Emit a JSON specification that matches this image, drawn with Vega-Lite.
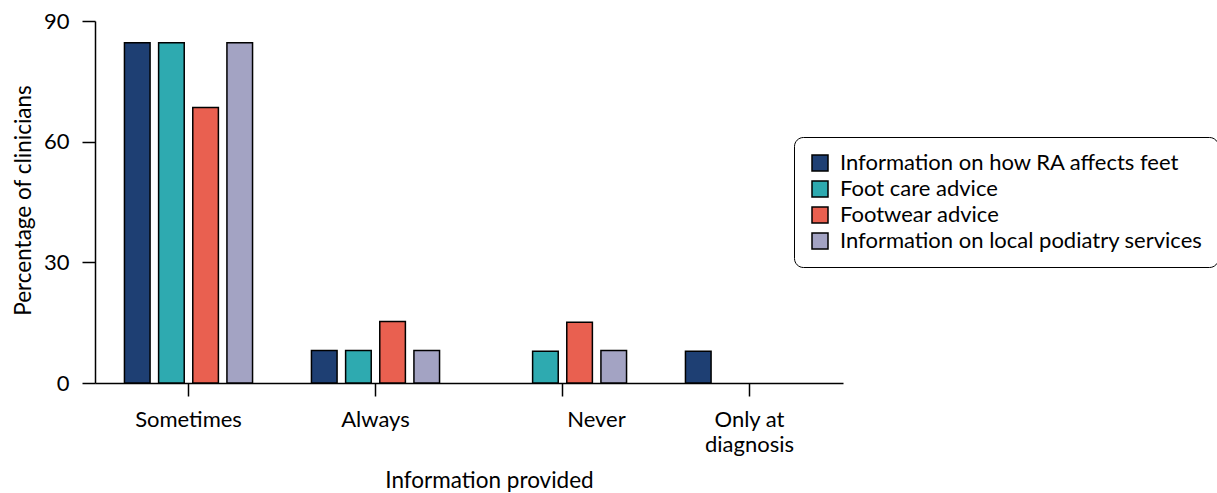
{
  "$schema": "https://vega.github.io/schema/vega-lite/v6.json",
  "autosize": {"type": "none"},
  "padding": {"left": 95, "top": 21, "right": 374, "bottom": 110},
  "width": 748,
  "height": 362,
  "background": "white",
  "config": {
    "view": {"stroke": null},
    "font": "Lato",
    "axis": {
      "labelFont": "Lato", "titleFont": "Lato", "labelFontSize": 22, "titleFontSize": 22.5,
      "labelColor": "black", "titleColor": "black", "titleFontWeight": "normal",
      "domainColor": "black", "domainWidth": 1.5, "tickColor": "black", "tickWidth": 1.5,
      "tickSize": 13, "grid": false
    },
    "legend": {"labelFont": "Lato", "labelFontSize": 22, "labelColor": "black"}
  },
  "data": {
    "values": [
      {"info": "Sometimes", "type": "Information on how RA affects feet", "pct": 84.6},
      {"info": "Sometimes", "type": "Foot care advice", "pct": 84.6},
      {"info": "Sometimes", "type": "Footwear advice", "pct": 68.5},
      {"info": "Sometimes", "type": "Information on local podiatry services", "pct": 84.6},
      {"info": "Always", "type": "Information on how RA affects feet", "pct": 8.1},
      {"info": "Always", "type": "Foot care advice", "pct": 8.1},
      {"info": "Always", "type": "Footwear advice", "pct": 15.3},
      {"info": "Always", "type": "Information on local podiatry services", "pct": 8.1},
      {"info": "Never", "type": "Foot care advice", "pct": 7.9},
      {"info": "Never", "type": "Footwear advice", "pct": 15.1},
      {"info": "Never", "type": "Information on local podiatry services", "pct": 8.1},
      {"info": "Only at diagnosis", "type": "Information on how RA affects feet", "pct": 7.9}
    ]
  },
  "mark": {"type": "bar", "stroke": "black", "strokeWidth": 1.5},
  "encoding": {
    "x": {
      "field": "info", "type": "nominal",
      "sort": ["Sometimes", "Always", "Never", "Only at diagnosis"],
      "scale": {"paddingInner": 0.315, "paddingOuter": 0.1575},
      "axis": {
        "title": "Information provided", "labelAngle": 0, "labelPadding": 13,
        "labelLineHeight": 25,
        "labelExpr": "datum.label == 'Only at diagnosis' ? ['Only at', 'diagnosis'] : datum.label",
        "labelOffset": {"condition": {"test": "datum.value == 'Never'", "value": 34}, "value": 0},
        "titleX": 394, "titleY": 104, "titleBaseline": "alphabetic", "titleAlign": "center"
      }
    },
    "xOffset": {
      "field": "type", "type": "nominal",
      "sort": ["Information on how RA affects feet", "Foot care advice", "Footwear advice", "Information on local podiatry services"],
      "scale": {"paddingInner": 0.25, "paddingOuter": 0}
    },
    "y": {
      "field": "pct", "type": "quantitative",
      "scale": {"domain": [0, 90], "nice": false},
      "axis": {
        "title": "Percentage of clinicians", "values": [0, 30, 60, 90], "labelPadding": 13,
        "titleX": -65, "titleY": 179, "titleBaseline": "alphabetic", "titleAlign": "center", "titleAngle": -90
      }
    },
    "color": {
      "field": "type", "type": "nominal",
      "scale": {
        "domain": ["Information on how RA affects feet", "Foot care advice", "Footwear advice", "Information on local podiatry services"],
        "range": ["#1e3f73", "#2eaab0", "#e96050", "#a3a3c3"]
      },
      "legend": {
        "title": null, "orient": "none", "legendX": 699, "legendY": 116,
        "symbolType": "square", "symbolSize": 256, "symbolStrokeColor": "black", "symbolStrokeWidth": 1.5,
        "symbolOpacity": 1, "labelOffset": 9, "rowPadding": 4, "padding": 15,
        "strokeColor": "black", "cornerRadius": 9, "fillColor": "white",
        "labelLimit": 500
      }
    }
  }
}
